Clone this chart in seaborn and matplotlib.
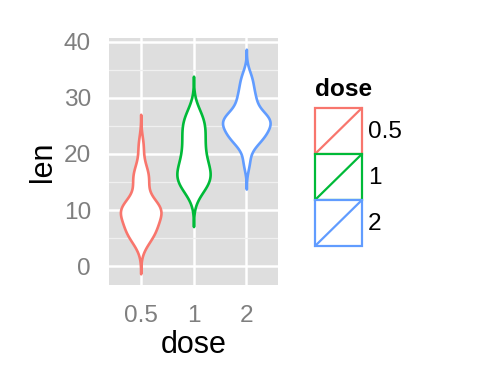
import numpy as np
import pandas as pd
import matplotlib
matplotlib.use("Agg")
import matplotlib.pyplot as plt
import seaborn as sns
from matplotlib.patches import Rectangle
from matplotlib.lines import Line2D
from matplotlib.legend_handler import HandlerBase
from matplotlib.ticker import MultipleLocator

# Tooth length by vitamin C dose (ToothGrowth, VC then OJ supplements)
len_05 = [4.2, 11.5, 7.3, 5.8, 6.4, 10.0, 11.2, 11.2, 5.2, 7.0,
          15.2, 21.5, 17.6, 9.7, 14.5, 10.0, 8.2, 9.4, 16.5, 9.7]
len_1 = [16.5, 16.5, 15.2, 17.3, 22.5, 17.3, 13.6, 14.5, 18.8, 15.5,
         19.7, 23.3, 23.6, 26.4, 20.0, 25.2, 25.8, 21.2, 14.5, 27.3]
len_2 = [23.6, 18.5, 33.9, 25.5, 26.4, 32.5, 26.7, 21.5, 23.3, 29.5,
         25.5, 26.4, 22.4, 24.5, 24.8, 30.9, 26.4, 27.3, 29.4, 23.0]
doses = ["0.5", "1", "2"]
dose_colors = ["#F8766D", "#00BA38", "#619CFF"]
y_ticks = [0, 10, 20, 30, 40]

df = pd.DataFrame({
    "dose": np.repeat(doses, 20),
    "len": len_05 + len_1 + len_2,
})
df["dose"] = pd.Categorical(df["dose"], categories=doses)


def nrd0(kde):
    # R's default bandwidth (bw.nrd0), returned as a factor of the sd
    x = kde.dataset[0]
    sd = x.std(ddof=1)
    q75, q25 = np.percentile(x, [75, 25])
    lo = min(sd, (q75 - q25) / 1.34)
    return 0.9 * lo * len(x) ** -0.2 / sd


class ViolinKey(HandlerBase):
    def create_artists(self, legend, orig_handle, xdescent, ydescent,
                       width, height, fontsize, trans):
        c = orig_handle.get_edgecolor()
        box = Rectangle((-xdescent, -ydescent), width, height, facecolor="white",
                        edgecolor=c, lw=1.6, transform=trans)
        diag = Line2D([-xdescent, -xdescent + width], [-ydescent, -ydescent + height],
                      color=c, lw=1.6, transform=trans)
        return [box, diag]


sns.set_theme(style="darkgrid")
plt.rcParams["font.family"] = ["Liberation Sans", "DejaVu Sans"]

fig = plt.figure(figsize=(4.8, 3.84), dpi=100)
fig.patch.set_facecolor("white")
ax = fig.add_axes([109 / 480, 1 - 285 / 384, 169 / 480, 247 / 384])

sns.violinplot(data=df, x="dose", y="len", hue="dose", palette=dose_colors,
               fill=False, inner=None, cut=3, bw_method=nrd0, gridsize=512,
               density_norm="area", common_norm=True, width=0.9,
               linewidth=1.9, legend=False, ax=ax)

for coll in ax.collections:
    coll.set_facecolor("white")

ax.set_facecolor("#DEDEDE")
ax.set_xlim(-0.6, 2.6)
ax.set_yticks(y_ticks)
ax.yaxis.set_minor_locator(MultipleLocator(5))
ax.grid(True, which="major", color="white", lw=1.8)
ax.grid(True, which="minor", axis="y", color="#F0F0F0", lw=0.9)
ax.grid(False, which="minor", axis="x")
ax.set_axisbelow(True)
for s in ax.spines.values():
    s.set_visible(False)

ax.tick_params(which="major", length=8, width=1.5, color="#7F7F7F",
               labelcolor="#7F7F7F", labelsize=17.6)
ax.tick_params(axis="y", pad=5)
ax.tick_params(axis="x", pad=6.5)
ax.tick_params(which="minor", length=0)
ax.set_xlabel("dose", fontsize=22, color="black", labelpad=2)
ax.set_ylabel("len", fontsize=22, color="black", labelpad=4)

handles = [Rectangle((0, 0), 1, 1, edgecolor=c) for c in dose_colors]
leg = fig.legend(handles, doses, title="dose", handler_map={Rectangle: ViolinKey()},
                 loc="upper left", bbox_to_anchor=(315 / 480, 1 - 78 / 384),
                 frameon=False, fontsize=17.6, handlelength=1.92, handleheight=2.52,
                 labelspacing=0, handletextpad=0.25, borderpad=0, borderaxespad=0,
                 alignment="left", labelcolor="black",
                 title_fontproperties={"weight": "bold", "size": 17.6})
leg.get_title().set_color("black")
leg._legend_box.sep = 5

fig.savefig("out.png", dpi=100)
